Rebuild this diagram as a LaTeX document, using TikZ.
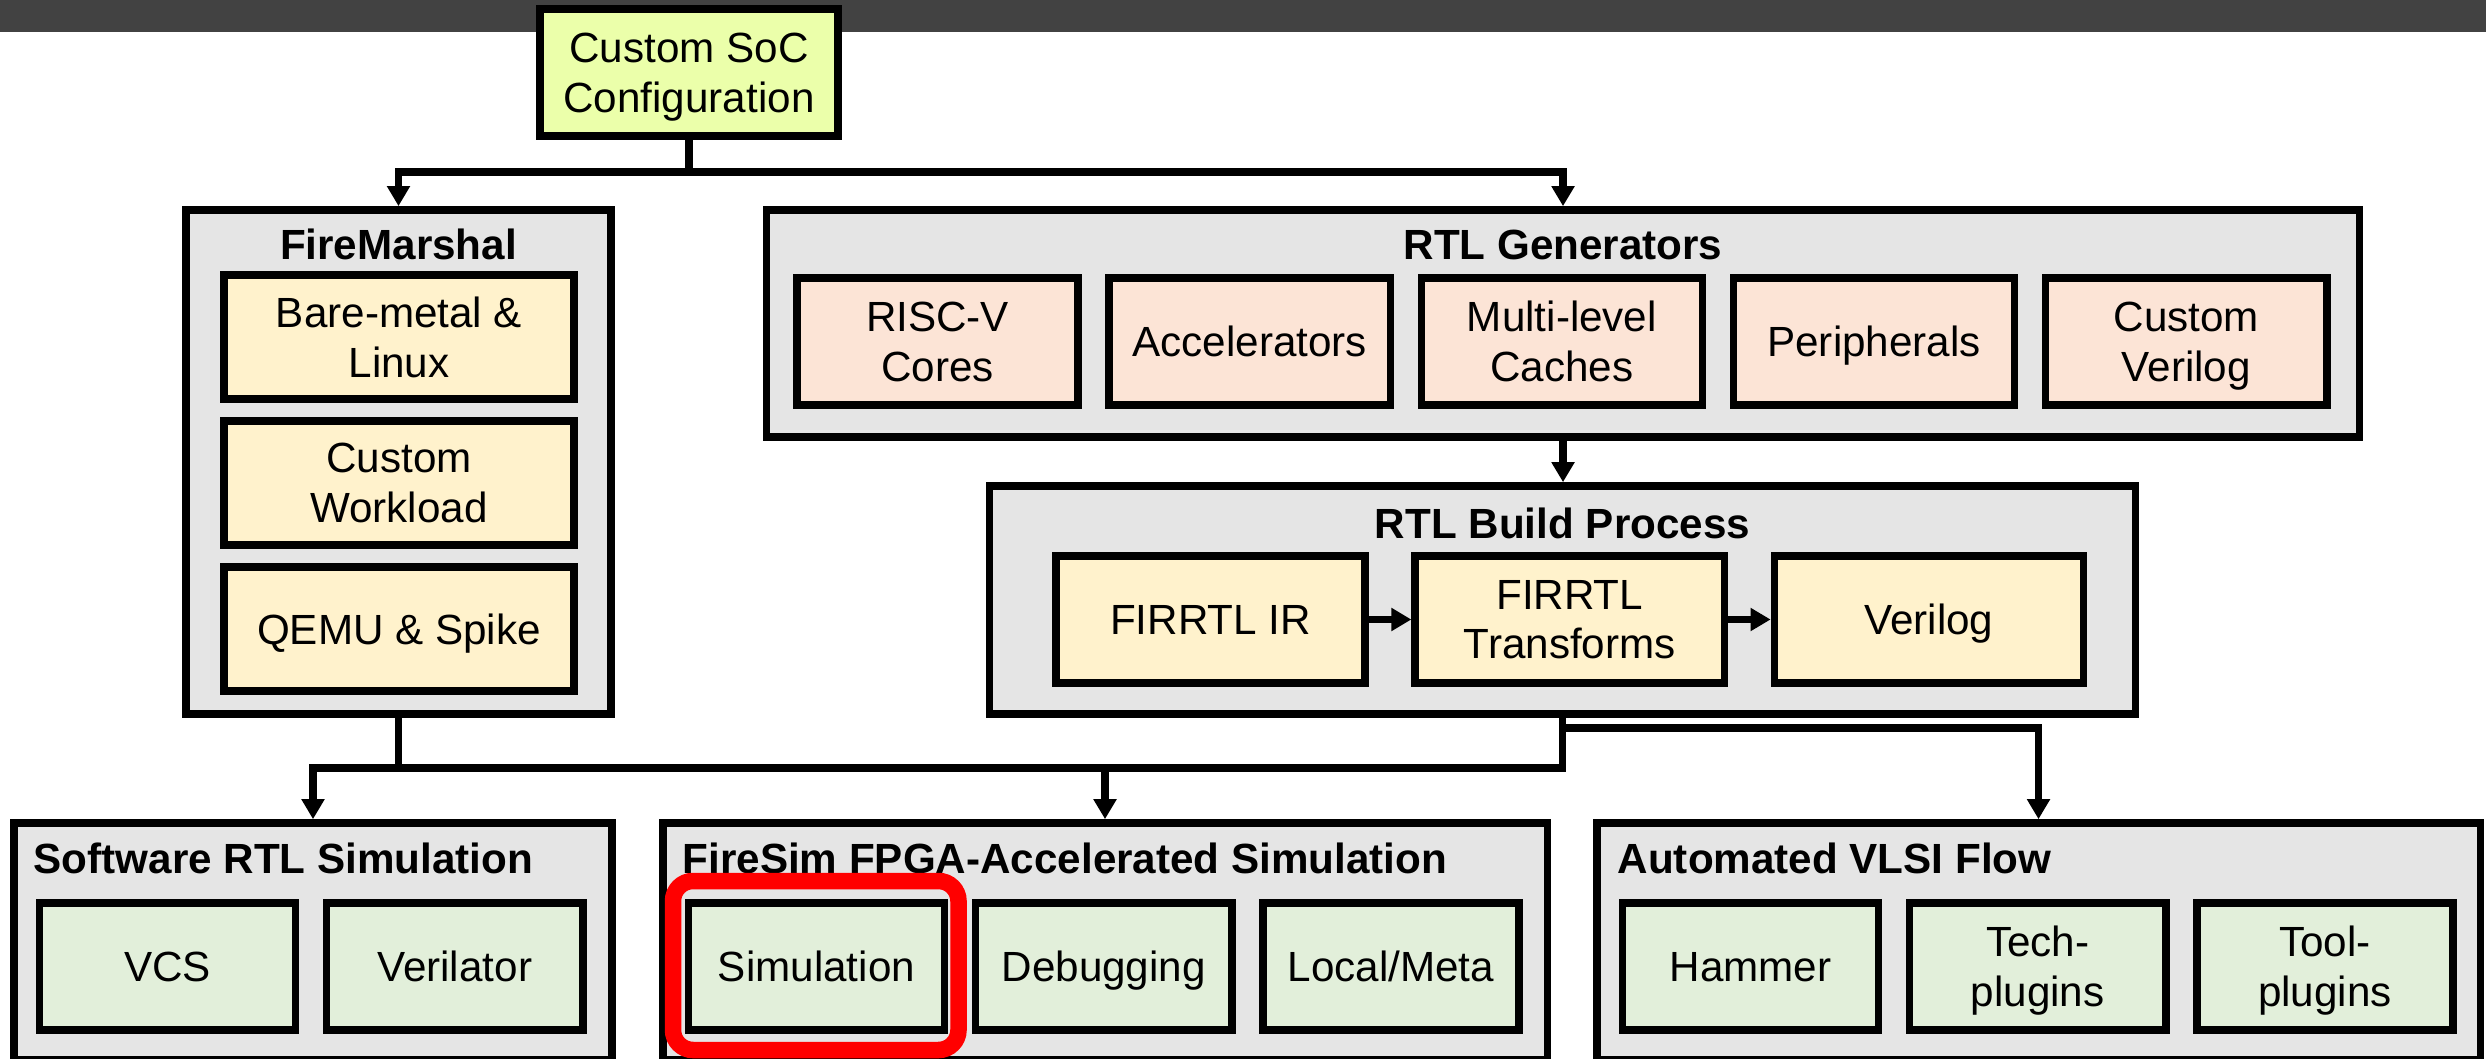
\documentclass[tikz,border=0pt]{standalone}
\usepackage{fontspec}
\setmainfont{Liberation Sans}
\usetikzlibrary{positioning,arrows.meta}
\definecolor{topbar}{HTML}{424242}
\definecolor{socfill}{HTML}{EBFFAA}
\definecolor{groupgray}{HTML}{E5E5E5}
\definecolor{creamfill}{HTML}{FFF2CC}
\definecolor{peachfill}{HTML}{FCE4D6}
\definecolor{greenfill}{HTML}{E2EFDA}

\begin{document}
\begin{tikzpicture}[x=0.01cm, y=-0.01cm,
font=\fontsize{12}{14.2}\selectfont,
groupbox/.style={rectangle, draw=black, fill=groupgray, line width=0.075cm, inner sep=0pt},
itembox/.style={rectangle, draw=black, line width=0.075cm, minimum height=1.27cm, align=center, inner sep=0pt, text depth=0pt},
socbox/.style={itembox, fill=socfill, minimum width=2.98cm},
fmbox/.style={itembox, fill=creamfill, minimum width=3.5cm, minimum height=1.24cm},
genbox/.style={itembox, fill=peachfill, minimum width=2.81cm},
buildbox/.style={itembox, fill=creamfill, minimum width=3.09cm},
toolbox/.style={itembox, fill=greenfill, minimum width=2.56cm},
grouptitle/.style={font=\fontsize{12}{14.2}\selectfont\bfseries, inner sep=0pt},
conn/.style={line width=0.075cm},
arr/.style={conn, -{Triangle[length=0.2cm, width=0.22cm]}},
redmark/.style={draw=red, line width=0.165cm, rounded corners=0.2cm},
]
\useasboundingbox (0,0) rectangle (2486,1058);
\clip (0,0) rectangle (2486,1058);
\fill[topbar] (0,0) rectangle (2486,32);

%Nodes
\node[socbox]   (soc)   at (689,72.5)      {Custom SoC\\Configuration};

\node[groupbox, minimum width=4.25cm, minimum height=5.04cm]   (fm)   at (398.5,462)   {};
\node[grouptitle, anchor=base]   (fmtitle)   at (398.5,260)   {FireMarshal};
\node[fmbox]   (fm1)   at (399,337)          {Bare-metal \&\\Linux};
\node[fmbox]   (fm2)   [below=0.145cm of fm1]   {Custom\\Workload};
\node[fmbox]   (fm3)   [below=0.145cm of fm2]   {QEMU \& Spike};

\node[groupbox, minimum width=15.92cm, minimum height=2.27cm]   (rg)   at (1563,323.5)   {};
\node[grouptitle, anchor=base]   (rgtitle)   at (1563,260)   {RTL Generators};
\node[genbox]   (rg1)   at (937.5,341.5)         {RISC-V\\Cores};
\node[genbox]   (rg2)   [right=0.235cm of rg1]   {Accelerators};
\node[genbox]   (rg3)   [right=0.235cm of rg2]   {Multi-level\\Caches};
\node[genbox]   (rg4)   [right=0.235cm of rg3]   {Peripherals};
\node[genbox]   (rg5)   [right=0.235cm of rg4]   {Custom\\Verilog};

\node[groupbox, minimum width=11.45cm, minimum height=2.28cm]   (rb)   at (1562.5,600)   {};
\node[grouptitle, anchor=base]   (rbtitle)   at (1562.5,538)   {RTL Build Process};
\node[buildbox]   (rb1)   at (1210.5,619.5)       {FIRRTL IR};
\node[buildbox]   (rb2)   [right=0.425cm of rb1]  {FIRRTL\\Transforms};
\node[buildbox]   (rb3)   [right=0.425cm of rb2]  {Verilog};

\node[groupbox, minimum width=5.98cm, minimum height=2.37cm]   (sw)   at (313,941.5)   {};
\node[grouptitle, anchor=base west]   (swtitle)   at (33,873)   {Software RTL Simulation};
\node[toolbox]   (sw1)   at (167.5,966.5)        {VCS};
\node[toolbox]   (sw2)   [right=0.235cm of sw1]  {Verilator};

\node[groupbox, minimum width=8.84cm, minimum height=2.37cm]   (fs)   at (1105,941.5)   {};
\node[grouptitle, anchor=base west]   (fstitle)   at (682,873)   {FireSim FPGA-Accelerated Simulation};
\node[toolbox]   (fs1)   at (816.5,966.5)        {Simulation};
\node[toolbox]   (fs2)   [right=0.235cm of fs1]  {Debugging};
\node[toolbox]   (fs3)   [right=0.235cm of fs2]  {Local/Meta};

\node[groupbox, minimum width=8.83cm, minimum height=2.37cm]   (vl)   at (2038.5,941.5)   {};
\node[grouptitle, anchor=base west]   (vltitle)   at (1617,873)   {Automated VLSI Flow};
\node[toolbox]   (vl1)   at (1750.5,966.5)       {Hammer};
\node[toolbox]   (vl2)   [right=0.235cm of vl1]  {Tech-\\plugins};
\node[toolbox]   (vl3)   [right=0.235cm of vl2]  {Tool-\\plugins};

\coordinate (busA) at (0,172);
\coordinate (busB) at (0,768);
\coordinate (busC) at (0,728);

%Lines
\draw[arr] (soc.south) -- (soc.south |- busA) -| (fm.north);
\draw[arr] (soc.south |- busA) -| (rg.north);
\draw[arr] (rg.south) -- (rg.south |- rb.north);
\draw[arr] (rb1) -- (rb2);
\draw[arr] (rb2) -- (rb3);
\draw[conn] (fm.south) -- (fm.south |- busB);
\draw[arr] (rb.south) -- (rb.south |- busB) -| (sw.north);
\draw[arr] (rb.south |- busB) -| (fs.north);
\draw[arr] (rb.south |- busC) -| (vl.north);

\draw[redmark] (673,881) rectangle (958.5,1050);
\end{tikzpicture}
\end{document}
